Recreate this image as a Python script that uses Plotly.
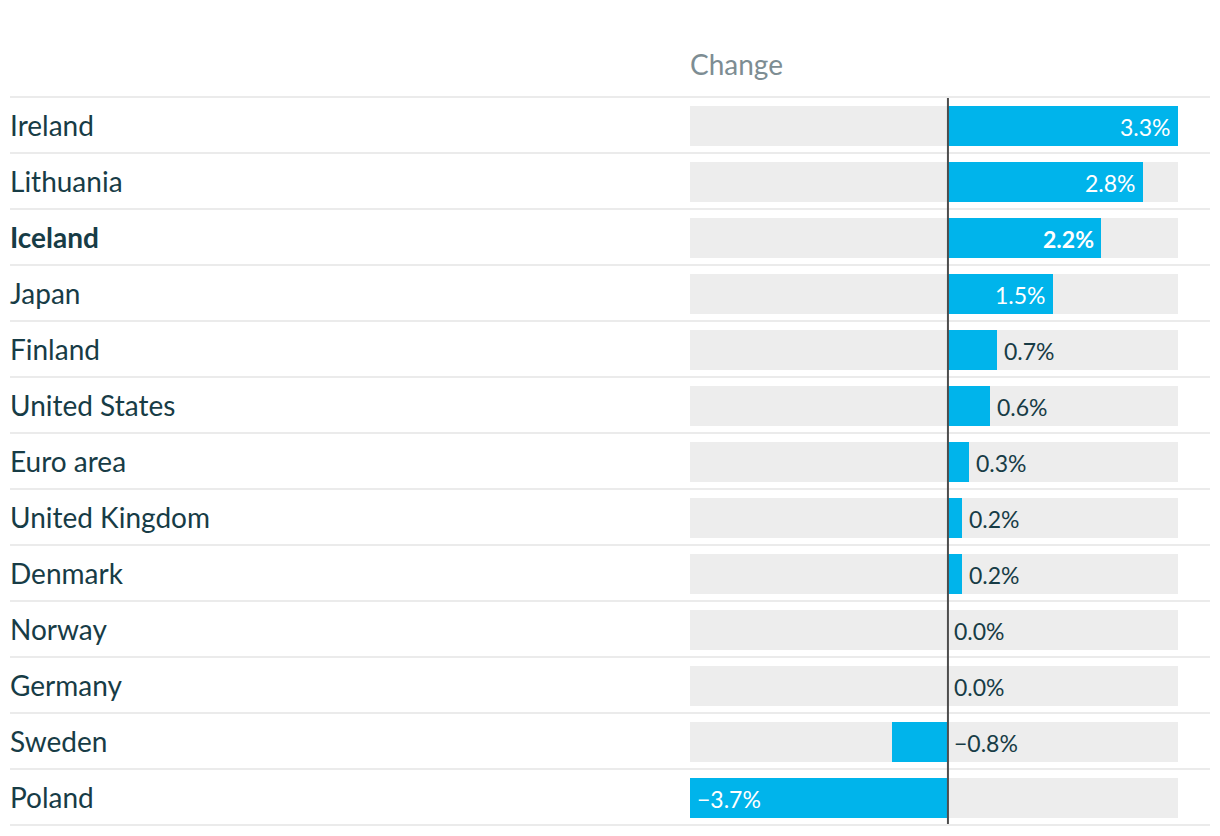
import plotly.graph_objects as go

countries = ["Ireland", "Lithuania", "Iceland", "Japan", "Finland", "United States",
             "Euro area", "United Kingdom", "Denmark", "Norway", "Germany", "Sweden", "Poland"]
changes = [3.3, 2.8, 2.2, 1.5, 0.7, 0.6, 0.3, 0.2, 0.2, 0.0, 0.0, -0.8, -3.7]
highlight = "Iceland"
column_title = "Change"

W, H = 1220, 836
BLUE = "#00b4eb"
TRACK = "#ededed"
TEXT = "#173c46"
SEP = "#ebebeb"

n = len(countries)
idx = list(range(n))
xmin, xmax = min(changes), max(changes)

# pixel geometry
x0_px, x1_px = 690, 1178
row_h = 56
first_center = 126
y_top = -first_center / row_h
y_bot = (H - first_center) / row_h

fig = go.Figure()
fig.add_trace(go.Bar(
    y=idx, x=[xmax - xmin] * n, base=xmin, orientation="h",
    width=40 / row_h, marker=dict(color=TRACK, line=dict(width=0)),
    hoverinfo="skip", showlegend=False))
fig.add_trace(go.Bar(
    y=idx, x=changes, orientation="h",
    width=40 / row_h, marker=dict(color=BLUE, line=dict(width=0)),
    hoverinfo="skip", showlegend=False))

annotations = []
px_per_unit = (x1_px - x0_px) / (xmax - xmin)
for i, (c, v) in enumerate(zip(countries, changes)):
    bold = c == highlight
    lab = f"<b>{c}</b>" if bold else c
    annotations.append(dict(
        x=10 / W, xref="paper", y=i, yref="y", text=lab, showarrow=False,
        xanchor="left", yanchor="middle", xshift=-2, yshift=1,
        font=dict(family="Lato", size=28, color=TEXT)))
    s = f"{v:.1f}%".replace("-", "\u2212")
    if bold:
        s = f"<b>{s}</b>"
    inside = abs(v) * px_per_unit > 70
    if inside and v > 0:
        ann = dict(x=v, xanchor="right", xshift=-5, color="white")
    elif inside and v < 0:
        ann = dict(x=v, xanchor="left", xshift=5, color="white")
    else:
        ann = dict(x=max(v, 0), xanchor="left", xshift=5 if v > 0 else 4, color=TEXT)
    annotations.append(dict(
        x=ann["x"], xref="x", y=i, yref="y", text=s, showarrow=False,
        xanchor=ann["xanchor"], xshift=ann["xshift"], yanchor="middle", yshift=-1,
        font=dict(family="Lato", size=23, color=ann["color"])))

annotations.append(dict(
    x=x0_px / W, xref="paper", y=1 - 64 / H, yref="paper", text=column_title,
    showarrow=False, xanchor="left", yanchor="middle", xshift=-2,
    font=dict(family="Lato", size=28, color="#7d8d93")))

shapes = []
for k in range(n + 1):
    shapes.append(dict(type="line", xref="paper", yref="y",
                       x0=10 / W, x1=1210 / W, y0=k - 0.5 - 1 / row_h, y1=k - 0.5 - 1 / row_h,
                       line=dict(color=SEP, width=2), layer="below"))
shapes.append(dict(type="line", xref="x", yref="y", x0=0, x1=0,
                   y0=-0.5, y1=n - 0.5 - 2 / row_h,
                   line=dict(color="#4d4d4d", width=2), layer="above"))

fig.update_layout(
    width=W, height=H, margin=dict(l=0, r=0, t=0, b=0),
    paper_bgcolor="white", plot_bgcolor="rgba(0,0,0,0)",
    barmode="overlay", bargap=0,
    xaxis=dict(domain=[x0_px / W, x1_px / W], range=[xmin, xmax], visible=False,
               fixedrange=True),
    yaxis=dict(domain=[0, 1], range=[y_bot, y_top], visible=False, fixedrange=True),
    annotations=annotations, shapes=shapes,
    font=dict(family="Lato"),
)

fig.write_html("out.html", config={"displayModeBar": False},
               post_script="document.body.style.margin='0';document.body.style.overflow='hidden';")
